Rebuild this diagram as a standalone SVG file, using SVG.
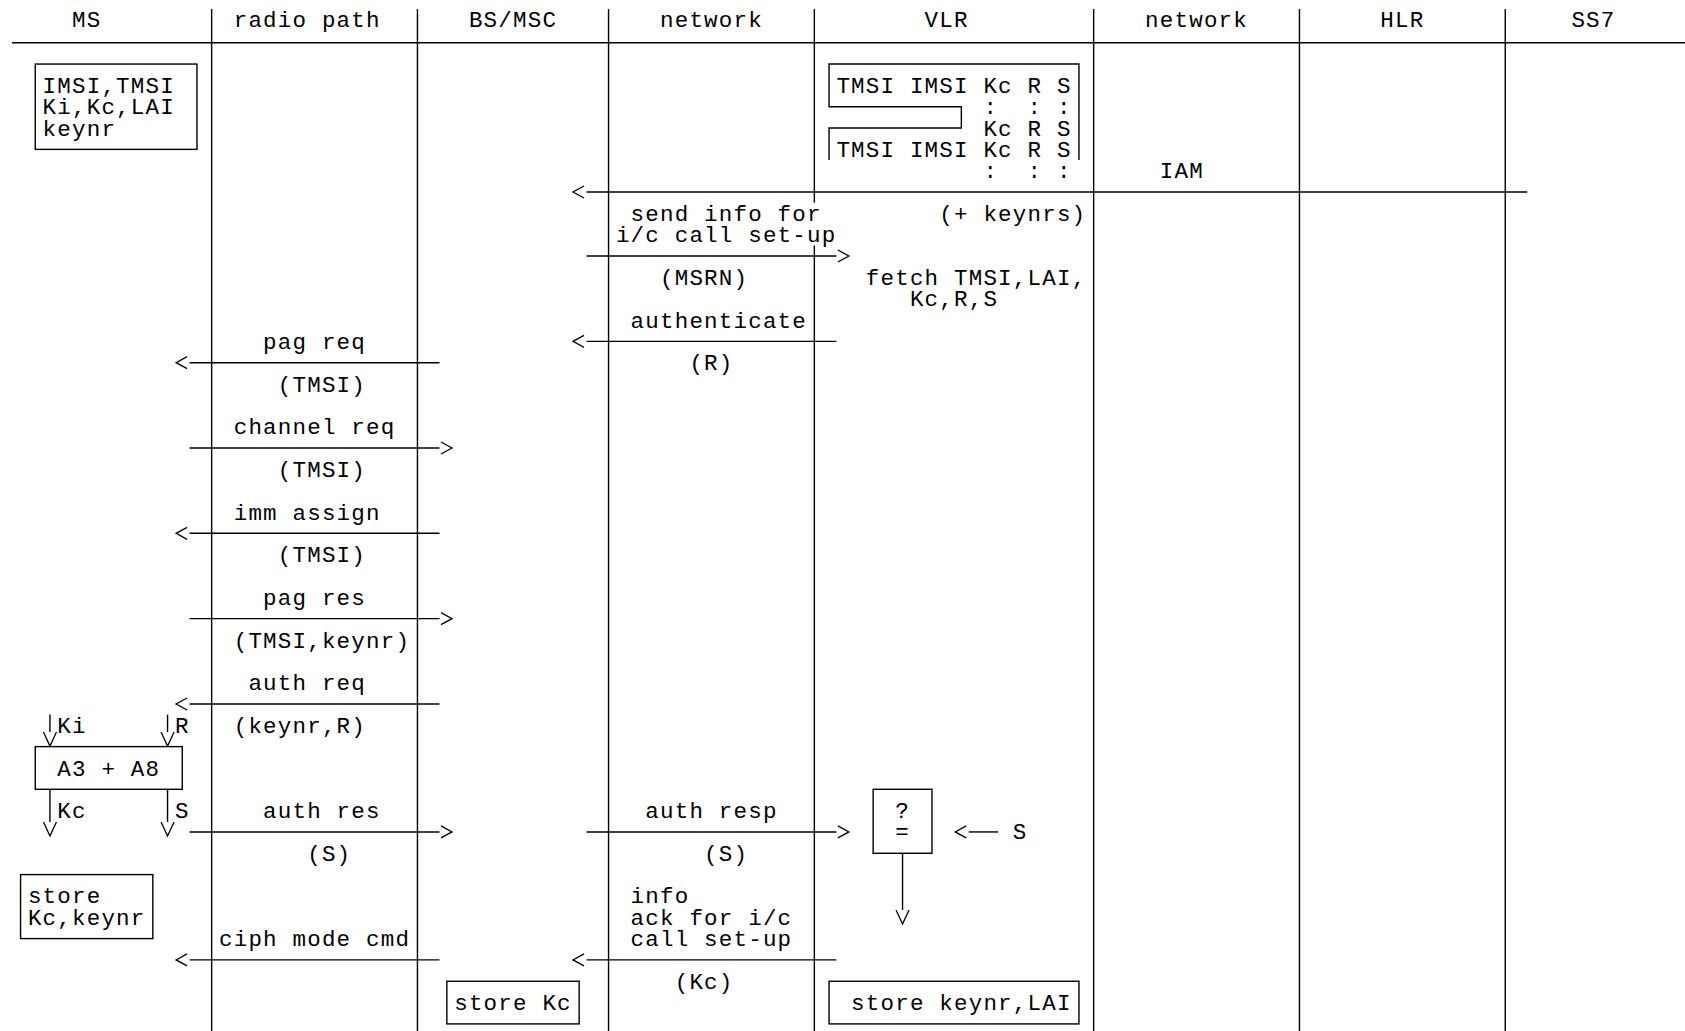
<svg xmlns="http://www.w3.org/2000/svg" width="1685" height="1031" viewBox="0 0 1685 1031">
<style>
.t{font-family:"Liberation Mono","DejaVu Sans Mono",monospace;font-size:22.5px;letter-spacing:1.2px;fill:#000}
.l{stroke:#000;stroke-width:1.4;fill:none}
.al{marker-start:url(#aL)}
.ar{marker-end:url(#aR)}
.ad{marker-end:url(#aD)}
</style>
<defs>
<marker id="aL" markerUnits="userSpaceOnUse" markerWidth="20" markerHeight="20" refX="16" refY="10" orient="0"><path d="M13.5 4 L2.5 10 L13.5 16" fill="none" stroke="#000" stroke-width="1.3"/></marker>
<marker id="aR" markerUnits="userSpaceOnUse" markerWidth="20" markerHeight="20" refX="4" refY="10" orient="0"><path d="M5.5 4 L16.5 10 L5.5 16" fill="none" stroke="#000" stroke-width="1.3"/></marker>
<marker id="aD" markerUnits="userSpaceOnUse" markerWidth="20" markerHeight="20" refX="10" refY="0.5" orient="0"><path d="M3.5 0.5 L10 14.5 L16.5 0.5" fill="none" stroke="#000" stroke-width="1.3"/></marker>
</defs>
<rect width="1685" height="1031" fill="#fff"/>

<g id="header-rule"><line class="l" x1="12" y1="42.7" x2="1685" y2="42.7"/></g>

<g id="lane-ms"><text class="t" x="72" y="27">MS</text></g>
<g id="lane-radio"><text class="t" x="233.7" y="27">radio path</text><line class="l" x1="211.65" y1="9" x2="211.65" y2="1031"/></g>
<g id="lane-bsmsc"><text class="t" x="468.9" y="27">BS/MSC</text><line class="l" x1="417.45" y1="9" x2="417.45" y2="1031"/></g>
<g id="lane-network1"><text class="t" x="660" y="27">network</text><line class="l" x1="608.55" y1="9" x2="608.55" y2="1031"/></g>
<g id="lane-vlr"><text class="t" x="924.6" y="27">VLR</text><line class="l" x1="814.35" y1="9" x2="814.35" y2="202.7"/><line class="l" x1="814.35" y1="245.4" x2="814.35" y2="1031"/></g>
<g id="lane-network2"><text class="t" x="1145.1" y="27">network</text><line class="l" x1="1093.65" y1="9" x2="1093.65" y2="1031"/></g>
<g id="lane-hlr"><text class="t" x="1380.3" y="27">HLR</text><line class="l" x1="1299.45" y1="9" x2="1299.45" y2="1031"/></g>
<g id="lane-ss7"><text class="t" x="1571.4" y="27">SS7</text><line class="l" x1="1505.25" y1="9" x2="1505.25" y2="1031"/></g>

<g id="ms-data">
<rect class="l" x="35.25" y="64.06" width="161.7" height="85.32"/>
<text class="t" x="42.6" y="92.9">IMSI,TMSI</text>
<text class="t" x="42.6" y="114.2">Ki,Kc,LAI</text>
<text class="t" x="42.6" y="135.6">keynr</text>
</g>

<g id="vlr-table">
<polyline class="l" points="1078.95,160 1078.95,64.06 829.05,64.06 829.05,106.72 961.35,106.72 961.35,128.05 829.05,128.05 829.05,160"/>
<text class="t" x="836.4" y="92.9">TMSI IMSI Kc R S</text>
<text class="t" x="983.4" y="114.2" xml:space="preserve">:  : :</text>
<text class="t" x="983.4" y="135.6">Kc R S</text>
<text class="t" x="836.4" y="156.9">TMSI IMSI Kc R S</text>
<text class="t" x="983.4" y="178.2" xml:space="preserve">:  : :</text>
</g>

<g id="vlr-fetch">
<text class="t" x="865.8" y="284.9">fetch TMSI,LAI,</text>
<text class="t" x="909.9" y="306.2">Kc,R,S</text>
</g>

<g id="a3a8">
<rect class="l" x="35.25" y="746.62" width="147" height="42.66"/>
<text class="t" x="57.3" y="775.5" xml:space="preserve">A3 + A8</text>
</g>

<g id="compare">
<rect class="l" x="873.15" y="789.28" width="58.8" height="63.99"/>
<text class="t" x="895.2" y="818.1">?</text>
<text class="t" x="895.2" y="839.4">=</text>
</g>

<g id="ms-store">
<rect class="l" x="20.55" y="874.6" width="132.3" height="63.99"/>
<text class="t" x="27.9" y="903.4">store</text>
<text class="t" x="27.9" y="924.8">Kc,keynr</text>
</g>

<g id="bs-store">
<rect class="l" x="446.85" y="981.25" width="132.3" height="42.66"/>
<text class="t" x="454.2" y="1010.1">store Kc</text>
</g>

<g id="vlr-store">
<rect class="l" x="829.05" y="981.25" width="249.9" height="42.66"/>
<text class="t" x="851.1" y="1010.1">store keynr,LAI</text>
</g>

<g id="connectors">
<line class="l al" x1="586.5" y1="192.04" x2="1527.3" y2="192.04"/>
<text class="t" x="1159.8" y="178.2">IAM</text>
<text class="t" x="939.3" y="220.9">(+ keynrs)</text>

<line class="l ar" x1="586.5" y1="256.03" x2="836.4" y2="256.03"/>
<text class="t" x="630.6" y="220.9">send info for</text>
<text class="t" x="615.9" y="242.2">i/c call set-up</text>
<text class="t" x="660" y="284.9">(MSRN)</text>

<line class="l al" x1="586.5" y1="341.35" x2="836.4" y2="341.35"/>
<text class="t" x="630.6" y="327.5">authenticate</text>
<text class="t" x="689.4" y="370.2">(R)</text>

<line class="l al" x1="189.6" y1="362.68" x2="439.5" y2="362.68"/>
<text class="t" x="263.1" y="348.9">pag req</text>
<text class="t" x="277.8" y="391.5">(TMSI)</text>

<line class="l ar" x1="189.6" y1="448" x2="439.5" y2="448"/>
<text class="t" x="233.7" y="434.2">channel req</text>
<text class="t" x="277.8" y="476.8">(TMSI)</text>

<line class="l al" x1="189.6" y1="533.32" x2="439.5" y2="533.32"/>
<text class="t" x="233.7" y="519.5">imm assign</text>
<text class="t" x="277.8" y="562.2">(TMSI)</text>

<line class="l ar" x1="189.6" y1="618.64" x2="439.5" y2="618.64"/>
<text class="t" x="263.1" y="604.8">pag res</text>
<text class="t" x="233.7" y="647.5">(TMSI,keynr)</text>

<line class="l al" x1="189.6" y1="703.96" x2="439.5" y2="703.96"/>
<text class="t" x="248.4" y="690.1">auth req</text>
<text class="t" x="233.7" y="732.8">(keynr,R)</text>

<line class="l ad" x1="49.95" y1="714.6" x2="49.95" y2="732.1"/>
<text class="t" x="57.3" y="732.8">Ki</text>
<line class="l ad" x1="167.55" y1="714.6" x2="167.55" y2="732.1"/>
<text class="t" x="174.9" y="732.8">R</text>

<line class="l ad" x1="49.95" y1="789.28" x2="49.95" y2="822"/>
<text class="t" x="57.3" y="818.1">Kc</text>
<line class="l ad" x1="167.55" y1="789.28" x2="167.55" y2="822"/>
<text class="t" x="174.9" y="818.1">S</text>

<line class="l ar" x1="189.6" y1="831.94" x2="439.5" y2="831.94"/>
<text class="t" x="263.1" y="818.1">auth res</text>
<text class="t" x="307.2" y="860.8">(S)</text>

<line class="l ar" x1="586.5" y1="831.94" x2="836.4" y2="831.94"/>
<text class="t" x="645.3" y="818.1">auth resp</text>
<text class="t" x="704.1" y="860.8">(S)</text>

<line class="l al" x1="968.7" y1="831.94" x2="998.1" y2="831.94"/>
<text class="t" x="1012.8" y="839.4">S</text>

<line class="l ad" x1="902.55" y1="853.27" x2="902.55" y2="910"/>

<line class="l al" x1="189.6" y1="959.92" x2="439.5" y2="959.92"/>
<text class="t" x="219" y="946.1">ciph mode cmd</text>

<line class="l al" x1="586.5" y1="959.92" x2="836.4" y2="959.92"/>
<text class="t" x="630.6" y="903.4">info</text>
<text class="t" x="630.6" y="924.8">ack for i/c</text>
<text class="t" x="630.6" y="946.1">call set-up</text>
<text class="t" x="674.7" y="988.8">(Kc)</text>
</g>
</svg>
